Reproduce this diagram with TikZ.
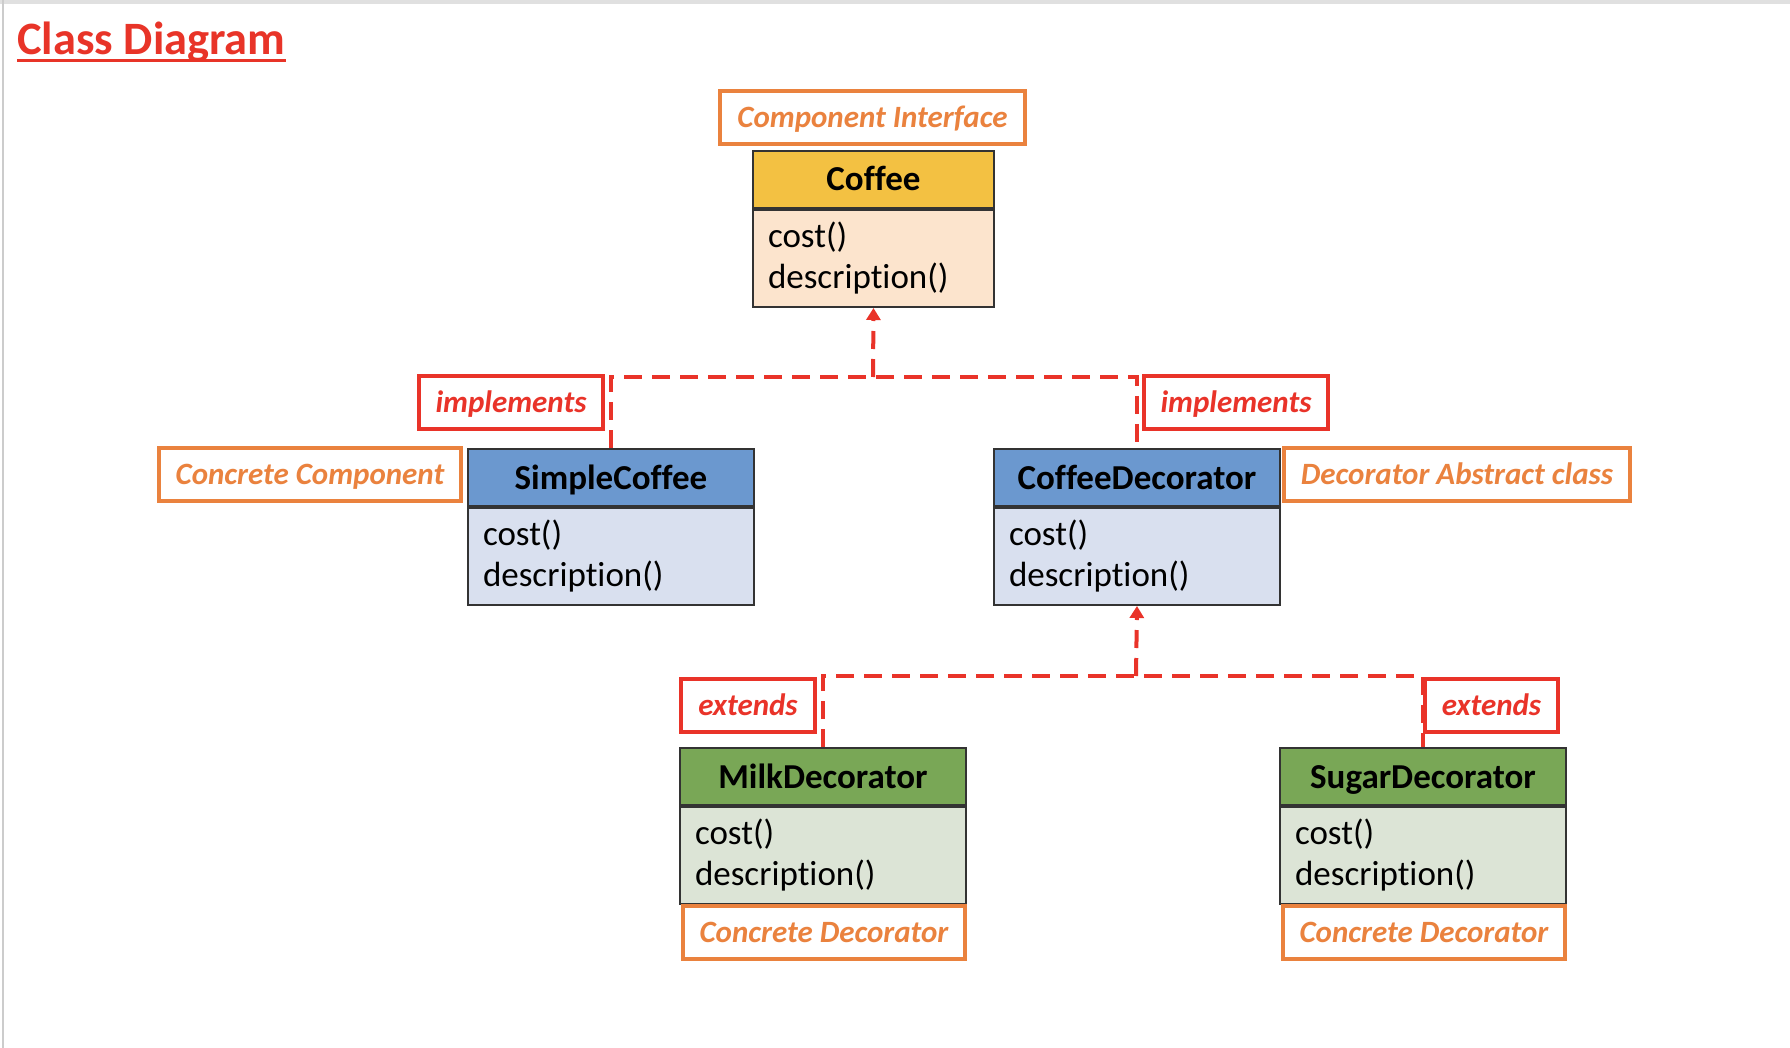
\documentclass[tikz,border=0pt]{standalone}
\usepackage{fontspec}
\setmainfont{Carlito}[Ligatures=NoCommon]
\usetikzlibrary{positioning,arrows.meta}

\definecolor{titlered}{RGB}{232,52,40}
\definecolor{relred}{RGB}{233,51,41}
\definecolor{roleorange}{RGB}{234,130,62}
\definecolor{coffeehead}{RGB}{243,193,66}
\definecolor{coffeebody}{RGB}{252,228,205}
\definecolor{bluehead}{RGB}{107,152,207}
\definecolor{bluebody}{RGB}{217,224,239}
\definecolor{greenhead}{RGB}{121,167,86}
\definecolor{greenbody}{RGB}{220,228,214}

\tikzset{
  classhead/.style = {draw=black!80, line width=1pt, anchor=north west,
    minimum width=143pt, minimum height=28.5pt, inner sep=0pt,
    text height=13pt, text depth=1.5pt,
    font=\fontsize{17.5}{20}\selectfont\bfseries},
  classbody/.style = {draw=black!80, line width=1pt, below=0pt of #1,
    minimum height=48.5pt, inner xsep=7.5pt, inner ysep=0pt,
    text width=128pt, align=left, font=\fontsize{17.5}{20.5}\selectfont},
  rolebox/.style = {draw=roleorange, line width=2pt, fill=white,
    text=roleorange, minimum height=26.5pt, inner xsep=8.5pt,
    text height=12pt, text depth=2pt,
    font=\fontsize{15.5}{18}\selectfont\bfseries\itshape},
  relbox/.style = {rolebox, draw=relred, text=relred},
  dep/.style = {relred, line width=2pt, dash pattern=on 9pt off 5pt},
}

\begin{document}
\begin{tikzpicture}[x=0.5pt, y=-0.5pt]
  \useasboundingbox (0,0) rectangle (1790,1048);
  \fill[black!12] (0,0) rectangle (1790,4);
  \draw[black!20, line width=1pt] (3,0) -- (3,1048);

  % title
  \node[anchor=base west, inner sep=0pt, text=titlered,
        font=\fontsize{23.2}{27}\selectfont\bfseries] (title) at (17,55) {Class Diagram};
  \draw[titlered, line width=1.5pt] ([yshift=-3pt]title.base west) -- ([yshift=-3pt]title.base east);

  % classes
  \node[classhead, fill=coffeehead, minimum width=120.5pt] (coffee) at (752,150) {Coffee};
  \node[classbody=coffee, fill=coffeebody, text width=105.5pt] (coffeebody) {cost()\\description()};

  \node[classhead, fill=bluehead] (simple) at (467,448) {SimpleCoffee};
  \node[classbody=simple, fill=bluebody] (simplebody) {cost()\\description()};

  \node[classhead, fill=bluehead] (decorator) at (993,448) {CoffeeDecorator};
  \node[classbody=decorator, fill=bluebody] (decoratorbody) {cost()\\description()};

  \node[classhead, fill=greenhead] (milk) at (679,747) {MilkDecorator};
  \node[classbody=milk, fill=greenbody] (milkbody) {cost()\\description()};

  \node[classhead, fill=greenhead] (sugar) at (1279,747) {SugarDecorator};
  \node[classbody=sugar, fill=greenbody] (sugarbody) {cost()\\description()};

  % roles
  \node[rolebox] (iface) at (872.5,118) {Component Interface};
  \node[rolebox] (concomp) at (310,474.5) {Concrete Component};
  \node[rolebox] (absdec) at (1457,474.5) {Decorator Abstract class};
  \node[rolebox] (milkrole) at (824,932) {Concrete Decorator};
  \node[rolebox] (sugarrole) at (1424,932) {Concrete Decorator};

  % relations
  \coordinate (implbus) at (873,377);
  \draw[dep] (simple.north) |- (implbus) -| (decorator.north);
  \draw[dep, -{Triangle[width=7pt,length=6pt]}] (implbus) -- (coffeebody.south);
  \node[relbox] (implleft) at (511,403) {implements};
  \node[relbox] (implright) at (1236,403) {implements};

  \coordinate (extbus) at (1136,676);
  \draw[dep] (milk.north) |- (extbus) -| (sugar.north);
  \draw[dep, -{Triangle[width=7pt,length=6pt]}] (extbus) -- (decoratorbody.south);
  \node[relbox] (extleft) at (748,705.5) {extends};
  \node[relbox] (extright) at (1491.5,705.5) {extends};
\end{tikzpicture}
\end{document}
